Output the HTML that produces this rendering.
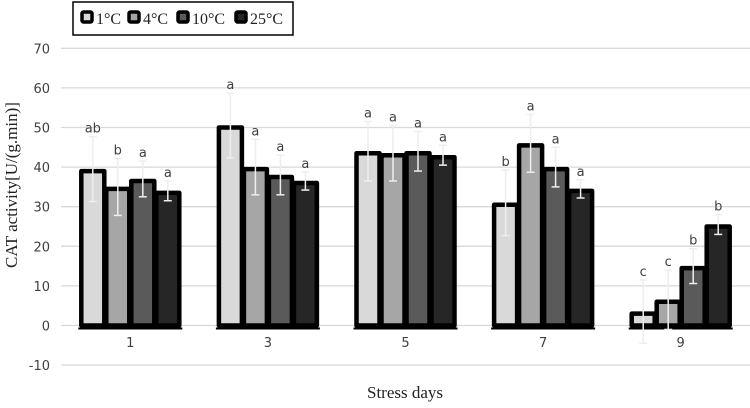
<!DOCTYPE html>
<html><head><meta charset="utf-8"><style>
body{margin:0;background:#fff}
svg{display:block}
.t{font-family:"DejaVu Sans","Liberation Sans",sans-serif;font-size:13px;fill:#404040}
.s{font-family:"Liberation Serif",serif;fill:#222}
</style></head><body>
<svg id="c" width="750" height="408" viewBox="0 0 750 408">
<g id="grid"></g>
<g id="yt"></g>
<g id="bars"></g>
<g id="xt"></g>
<text class="s" x="17" y="185" font-size="17" text-anchor="middle" transform="rotate(-90 17 185)">CAT activity[U/(g.min)]</text>
<text class="s" x="405" y="398" font-size="17" text-anchor="middle">Stress days</text>
<g id="legend"></g>
</svg>
<script>
const categories=["1","3","5","7","9"];
const seriesNames=["1°C","4°C","10°C","25°C"];
const s1=[39.5,50.5,44,31,3.5];
const s2=[35,40,43.5,46,6.5];
const s3=[37,38,44,40,15];
const s4=[34,36.5,43,34.5,25.5];
const e1=[8.2,8.2,7.5,8.3,8];
const e2=[7.2,7,7,7.3,7.5];
const e3=[4.5,5,5,5,4.4];
const e4=[2.5,2.3,2.5,2.3,2.5];
const l1=["ab","a","a","b","c"];
const l2=["b","a","a","a","c"];
const l3=["a","a","a","a","b"];
const l4=["a","a","a","a","b"];
const yTicks=[-10,0,10,20,30,40,50,60,70];
const fills=["#d9d9d9","#a6a6a6","#5a5a5a","#262626"];
const NS="http://www.w3.org/2000/svg";
const x0=61.5,band=137.6,bw=25;
const y=v=>325.5-v*3.96;
const cx=i=>x0+band*(i+0.5);
function mk(t,a,p){const e=document.createElementNS(NS,t);for(const k in a)e.setAttribute(k,a[k]);p.appendChild(e);return e;}
const grid=document.getElementById('grid'),yt=document.getElementById('yt');
yTicks.forEach(v=>{
 const l=mk('line',{x1:61,x2:750,y1:y(v),y2:y(v),stroke:'#d9d9d9','stroke-width':1.3},grid);
 
 
 const t=mk('text',{x:50,y:y(v)+5,'text-anchor':'end',class:'t'},yt);t.textContent=v;
 
 
});
const bars=document.getElementById('bars'),xt=document.getElementById('xt');
const S=[s1,s2,s3,s4],E=[e1,e2,e3,e4],L=[l1,l2,l3,l4];
categories.forEach((c,i)=>{
 const gx=cx(i)-2*bw;
 const base=mk('line',{x1:gx-2,x2:gx+4*bw+2,y1:y(0)+3,y2:y(0)+3,stroke:'#000','stroke-width':2},bars);
 
 
 for(let k=0;k<4;k++){
  const v=S[k][i],bx=gx+k*bw;
  const r=mk('rect',{x:bx+1,y:y(v)+2,width:bw-2,height:y(0)-y(v)-2,fill:fills[k],stroke:'#000','stroke-width':4.5,'stroke-linejoin':'round'},bars);
  
  
 }
 for(let k=0;k<4;k++){
  const v=S[k][i],e=E[k][i],mx=gx+k*bw+bw/2;
  const g=mk('g',{stroke:'#eeeeee','stroke-width':1.5},bars);
  
  
  mk('line',{x1:mx,x2:mx,y1:y(v+e),y2:y(v-e)},g);
  mk('line',{x1:mx-4,x2:mx+4,y1:y(v+e),y2:y(v+e)},g);
  mk('line',{x1:mx-4,x2:mx+4,y1:y(v-e),y2:y(v-e)},g);
  const t=mk('text',{x:mx,y:y(v+e)-4,'text-anchor':'middle',class:'t'},bars);t.textContent=L[k][i];
  
  
 }
 const t=mk('text',{x:cx(i),y:347,'text-anchor':'middle',class:'t'},xt);t.textContent=c;
 
 
});
const lg=document.getElementById('legend');
const box=mk('rect',{x:73,y:2,width:220,height:33,fill:'#fff',stroke:'#000','stroke-width':1.5},lg);


const lx=[80,127,176,234];
seriesNames.forEach((n,k)=>{
 const g=mk('g',{},lg);
 
 
 mk('rect',{x:lx[k]+2,y:12,width:10,height:10,fill:fills[k],stroke:'#000','stroke-width':3.5,rx:1.5},g);
 const t=mk('text',{x:lx[k]+16,y:24,class:'s','font-size':'16',fill:'#555'},g);t.textContent=n;
});
</script>
</body></html>
